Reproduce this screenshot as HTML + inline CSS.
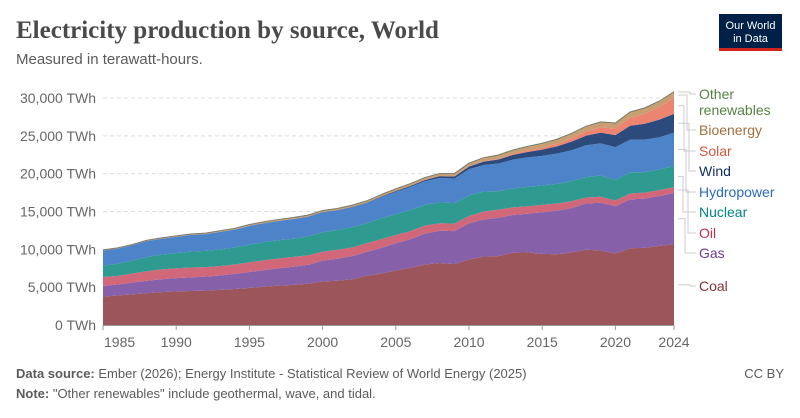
<!DOCTYPE html>
<html><head><meta charset="utf-8"><style>
body{margin:0;background:#fff;font-family:"Liberation Sans",sans-serif;}
#wrap{position:relative;width:800px;height:418px;overflow:hidden;}
</style></head><body>
<div id="wrap">
<svg id="svg" width="800" height="418" xmlns="http://www.w3.org/2000/svg">
<text x="16" y="38" font-family="Liberation Serif,serif" font-weight="bold" font-size="25" fill="#4a4a4a">Electricity production by source, World</text>
<text x="16" y="64" font-size="15" fill="#5b5b5b">Measured in terawatt-hours.</text>
<g>
<rect x="719" y="14" width="63" height="37" fill="#002147"/>
<rect x="719" y="48" width="63" height="3" fill="#ce261e"/>
<text x="750.5" y="29" text-anchor="middle" font-size="11" fill="#fff">Our World</text>
<text x="750.5" y="42" text-anchor="middle" font-size="11" fill="#fff">in Data</text>
</g>
<g id="grid"></g><g id="areas"></g><g id="axes"></g><g id="legend"></g>
<text x="16" y="378" font-size="13" fill="#5b5b5b"><tspan font-weight="bold">Data source:</tspan> Ember (2026); Energy Institute - Statistical Review of World Energy (2025)</text>
<text x="784" y="378" text-anchor="end" font-size="13" fill="#5b5b5b">CC BY</text>
<text x="16" y="398" font-size="13" fill="#5b5b5b"><tspan font-weight="bold">Note:</tspan> "Other renewables" include geothermal, wave, and tidal.</text>
</svg></div>
<script>
const years=[];for(let y=1985;y<=2024;y++)years.push(y);
const coal=[3750,3900,4050,4200,4350,4450,4500,4550,4650,4750,4900,5050,5200,5300,5450,5750,5850,6050,6500,6800,7200,7550,8000,8200,8050,8650,9050,9100,9550,9600,9400,9350,9600,9950,9850,9450,10150,10200,10450,10650];
const gas=[1400,1450,1550,1650,1700,1750,1800,1850,1900,2000,2100,2200,2300,2400,2500,2750,2900,3050,3150,3400,3600,3800,4100,4250,4350,4800,4900,5050,5000,5100,5500,5750,5850,6100,6300,6250,6450,6500,6600,6800];
const oil=[1200,1150,1200,1250,1300,1300,1300,1250,1250,1250,1300,1300,1300,1300,1250,1200,1200,1150,1150,1150,1100,1050,1050,1000,1000,950,1050,1100,1000,1000,1000,950,900,800,800,750,780,800,770,760];
const nuclear=[1500,1600,1700,1900,1950,2000,2100,2150,2200,2250,2300,2400,2400,2400,2500,2550,2600,2650,2650,2750,2750,2800,2750,2750,2700,2750,2650,2450,2500,2550,2550,2600,2650,2700,2800,2700,2800,2700,2750,2800];
const hydro=[2000,2000,2050,2100,2100,2150,2200,2200,2300,2350,2500,2500,2550,2600,2600,2650,2600,2650,2650,2800,2950,3050,3100,3250,3250,3450,3500,3650,3800,3900,3900,4000,4100,4200,4250,4350,4300,4300,4250,4400];
const wind=[0,0,0,0,0,4,5,6,7,8,8,10,12,16,21,31,38,52,64,85,104,133,170,221,276,342,437,522,636,712,833,957,1140,1270,1420,1600,1850,2100,2330,2500];
const solar=[0,0,0,0,0,0,0,0,0,0,0,0,0,0,0,0,0,0,0,0,4,6,8,12,20,32,63,100,134,190,256,329,445,575,703,851,1050,1300,1640,2130];
const bio=[50,55,60,65,70,80,85,95,100,110,120,130,135,140,145,150,160,170,180,200,220,240,260,280,300,360,390,420,440,480,500,530,560,590,630,660,680,700,700,700];
const other=[30,32,34,36,38,40,42,44,46,48,50,52,54,55,56,55,55,56,57,58,60,62,64,65,67,70,72,74,76,78,82,85,86,88,90,92,94,96,98,100];
const seriesNames=["Coal","Gas","Oil","Nuclear","Hydropower","Wind","Solar","Bioenergy","Other renewables"];
const yTicks=[0,5000,10000,15000,20000,25000,30000];
const xTicks=[1985,1990,1995,2000,2005,2010,2015,2020,2024];
const NS="http://www.w3.org/2000/svg";
const series=[coal,gas,oil,nuclear,hydro,wind,solar,bio,other];
const fills=["#9b555b","#8660a9","#d0687a","#2f9a90","#4d84c9","#2d4a7d","#ec8470","#c99e73","#7ea05a"];
const textCols=["#883039","#6d3e91","#c0324f","#00847e","#286bbb","#0f2f63","#d6563d","#a2703f","#578145"];
const x0=103,x1=674,yb=325,yt=98;
const X=y=>x0+(y-1985)*(x1-x0)/(2024-1985);
const Y=v=>yb-v*(yb-yt)/30000;
function mk(t,a,p){const e=document.createElementNS(NS,t);for(const k in a)e.setAttribute(k,a[k]);p.appendChild(e);return e;}
const grid=document.getElementById('grid'),axes=document.getElementById('axes'),areas=document.getElementById('areas'),legend=document.getElementById('legend');
yTicks.forEach(v=>{
 if(v>0){const l=mk('line',{x1:x0,x2:x1,y1:Y(v),y2:Y(v),stroke:'#ddd','stroke-dasharray':'4,3'},grid);
 
 }
 const t=mk('text',{x:96,y:Y(v)+5,'text-anchor':'end','font-size':14,fill:'#666'},axes);t.textContent=v.toLocaleString('en-US')+' TWh';
 
 
});
const al=mk('line',{x1:x0,x2:x1,y1:yb+0.5,y2:yb+0.5,stroke:'#999'},axes);


xTicks.forEach((yr,i)=>{
 mk('line',{x1:X(yr),x2:X(yr),y1:yb,y2:yb+5,stroke:'#999'},axes);
 const t=mk('text',{x:i==0?X(yr)+1:X(yr),y:yb+22,'text-anchor':i==0?'start':'middle','font-size':14,fill:'#666'},axes);t.textContent=yr;
 
 
});
let base=years.map(()=>0);const mids=[];
series.forEach((s,k)=>{
 const top=base.map((b,i)=>b+s[i]);
 let d='M'+years.map((y,i)=>X(y)+','+Y(top[i])).join('L');
 for(let i=years.length-1;i>=0;i--)d+='L'+X(years[i])+','+Y(base[i]);
 const p=mk('path',{d:d+'Z',fill:fills[k]},areas);
 
 
 mids.push(Y((base[39]+top[39])/2));
 base=top;
});
mk('path',{d:'M'+years.map((y,i)=>X(y)+','+Y(base[i])).join('L'),fill:'none',stroke:'#7a7a6a','stroke-width':1},areas);
const labY=[286,253,233,212,192,171,151,130,94];
const bend=[690,685,688,683,686,689,684,687,690];
seriesNames.forEach((n,k)=>{
 const ly=labY[k];
 mk('polyline',{points:`678,${mids[k]} ${bend[k]},${mids[k]} ${bend[k]},${ly} 696,${ly}`,fill:'none',stroke:'#ccc'},legend);
 const t=mk('text',{x:699,y:ly+5,'font-size':14,fill:textCols[k]},legend);
 
 
 if(k==8){t.innerHTML='<tspan x="699">Other</tspan><tspan x="699" dy="16">renewables</tspan>';}
 else t.textContent=n;
});
</script>
</body></html>
